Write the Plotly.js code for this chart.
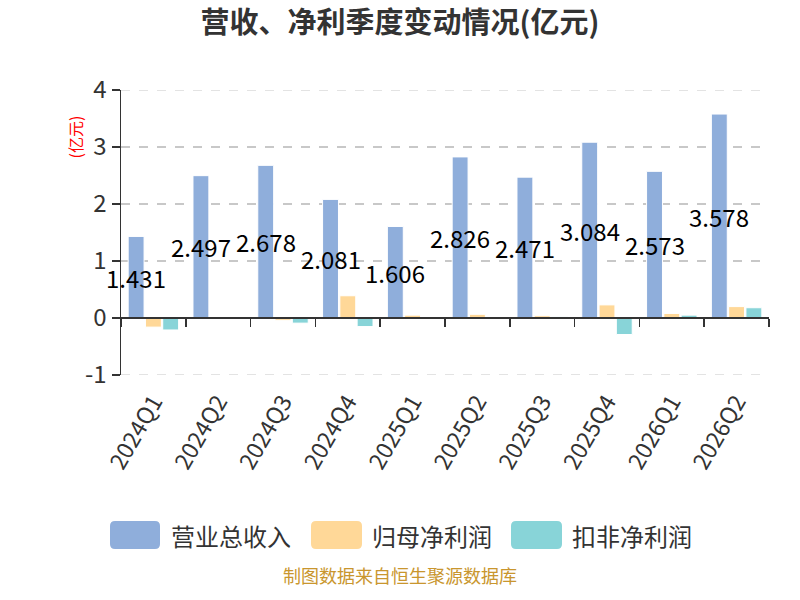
<!DOCTYPE html>
<html>
<head>
<meta charset="utf-8">
<script src="https://cdn.plot.ly/plotly-3.0.1.min.js"></script>
<style>html,body{margin:0;padding:0;background:#fff;}#chart{width:800px;height:600px;}</style>
</head>
<body>
<div id="chart"></div>
<script>
var categories = ["2024Q1","2024Q2","2024Q3","2024Q4","2025Q1","2025Q2","2025Q3","2025Q4","2026Q1","2026Q2"];
var revenue = [1.431, 2.497, 2.678, 2.081, 1.606, 2.826, 2.471, 3.084, 2.573, 3.578];
var netProfit = [-0.16, 0.01, -0.04, 0.39, 0.05, 0.065, 0.04, 0.23, 0.08, 0.20];
var deductedProfit = [-0.21, -0.005, -0.09, -0.15, 0.01, 0.01, 0.02, -0.29, 0.05, 0.18];
var seriesNames = ["营业总收入", "归母净利润", "扣非净利润"];
var seriesColors = ["#8FAEDB", "#FFD898", "#88D4D8"];
var yTicks = [-1, 0, 1, 2, 3, 4];

var FONT = "'Noto Sans CJK SC', 'Noto Sans', sans-serif";
var L = 121, R = 769, T = 90, B = 375;
function px(x){ return (x - L) / (R - L); }
function py(y){ return (B - y) / (B - T); }

var seriesData = [revenue, netProfit, deductedProfit];
var traces = seriesData.map(function(vals, i){
  return {
    type: 'bar', x: categories, y: vals, name: seriesNames[i],
    marker: {color: seriesColors[i], line: {color: '#ffffff', width: 1}},
    hoverinfo: 'x+y', showlegend: false
  };
});
traces.push({
  type: 'scatter', mode: 'markers', x: categories, y: categories.map(function(){return null;}),
  xaxis: 'x2', yaxis: 'y', showlegend: false, hoverinfo: 'skip'
});

var annotations = revenue.map(function(v, i){
  return {
    x: categories[i], y: v / 2, xref: 'x', yref: 'y', text: v.toFixed(3),
    showarrow: false, xshift: -17.3, font: {family: FONT, size: 24, color: '#000'}
  };
});
annotations.push({
  xref: 'paper', yref: 'paper', x: px(60), y: py(114), text: '(亿元)', textangle: -90,
  showarrow: false, font: {family: FONT, size: 16, color: '#ff0000'}
});
annotations.push({
  xref: 'paper', yref: 'paper', x: px(400), y: py(590), text: '制图数据来自恒生聚源数据库',
  showarrow: false, font: {family: FONT, size: 18, color: '#C9962E'}
});

var shapes = [];
[yTicks[0], yTicks[yTicks.length - 1]].forEach(function(t){
  shapes.push({type: 'line', xref: 'paper', yref: 'y', x0: 0, x1: 1, y0: t, y1: t,
    line: {color: '#c8c8c8', width: 1.2, dash: 'dash'}, layer: 'below'});
});
var legendRects = [[110, 160], [311, 362], [511, 562]];
var legendTextX = [169, 370, 570];
function roundRect(x0, y0, x1, y1, r){
  var a = px(x0), b = px(x1), ra = r / (R - L);
  var c = py(y1), d = py(y0), rb = r / (B - T);
  return 'M' + (a + ra) + ',' + c + ' L' + (b - ra) + ',' + c +
    ' Q' + b + ',' + c + ' ' + b + ',' + (c + rb) +
    ' L' + b + ',' + (d - rb) + ' Q' + b + ',' + d + ' ' + (b - ra) + ',' + d +
    ' L' + (a + ra) + ',' + d + ' Q' + a + ',' + d + ' ' + a + ',' + (d - rb) +
    ' L' + a + ',' + (c + rb) + ' Q' + a + ',' + c + ' ' + (a + ra) + ',' + c + ' Z';
}
seriesNames.forEach(function(name, i){
  shapes.push({
    type: 'path', xref: 'paper', yref: 'paper',
    path: roundRect(legendRects[i][0], 521, legendRects[i][1], 549, 5),
    fillcolor: seriesColors[i], line: {width: 0}
  });
  annotations.push({
    xref: 'paper', yref: 'paper', x: px(legendTextX[i]), y: py(535), xanchor: 'left', yanchor: 'middle',
    text: name, showarrow: false, font: {family: FONT, size: 24, color: '#333'}
  });
});

var layout = {
  width: 800, height: 600,
  margin: {l: L, r: 800 - R, t: T, b: 600 - B, pad: 0},
  paper_bgcolor: '#fff', plot_bgcolor: '#fff',
  title: {text: '<b>营收、净利季度变动情况(亿元)</b>', x: 0.5, xref: 'container', xanchor: 'center',
    y: 1 - 23 / 600, yref: 'container', yanchor: 'middle',
    font: {family: FONT, size: 29, color: '#333'}},
  barmode: 'group', bargap: 0.2, bargroupgap: 0.08,
  showlegend: false,
  xaxis: {
    type: 'category', range: [-0.5, 9.5], showline: false, ticks: '', showgrid: false, zeroline: false,
    tickangle: -60, ticklabelstandoff: 8, tickfont: {family: FONT, size: 23, color: '#333'}
  },
  xaxis2: {
    type: 'category', overlaying: 'x', anchor: 'free', position: py(317), side: 'bottom',
    range: [-0.5, 9.5], showline: true, linecolor: '#333', linewidth: 1.5,
    ticks: 'outside', tickson: 'boundaries', ticklen: 8, tickcolor: '#333', tickwidth: 1.5,
    showticklabels: false, showgrid: false, zeroline: false
  },
  yaxis: {
    range: [-1, 4], tickvals: yTicks, ticktext: yTicks.map(String),
    showline: true, linecolor: '#333', linewidth: 1.5, ticks: 'outside', ticklen: 8, tickcolor: '#333', tickwidth: 1.5,
    showgrid: true, gridcolor: '#c8c8c8', griddash: 'dash', gridwidth: 1.2, zeroline: false,
    tickfont: {family: FONT, size: 24, color: '#333'}
  },
  annotations: annotations,
  shapes: shapes
};

Plotly.newPlot('chart', traces, layout, {displayModeBar: false, staticPlot: true});
</script>
</body>
</html>
